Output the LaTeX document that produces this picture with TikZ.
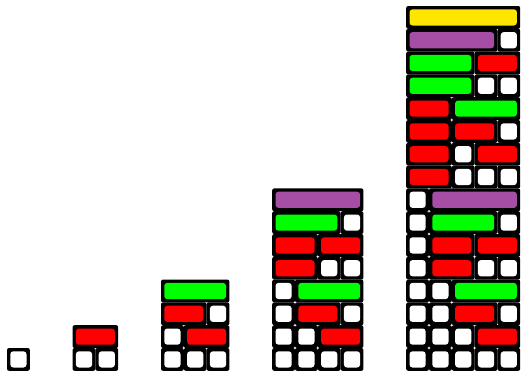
\documentclass[tikz,border=0pt]{standalone}
\usepackage{tikz}
\definecolor{c1}{RGB}{255,255,255}
\definecolor{c2}{RGB}{255,0,0}
\definecolor{c3}{RGB}{0,255,0}
\definecolor{c4}{RGB}{166,77,166}
\definecolor{c5}{RGB}{255,230,0}
\def\myU{22.8}
\def\bw{3.3}
\newcommand\comprow[3]{%
  \xdef\cx{0}%
  \foreach \p in #3 {%
    \pgfmathsetmacro\xa{#1+\cx*\myU}%
    \pgfmathsetmacro\xb{#1+(\cx+\p)*\myU}%
    \pgfmathsetmacro\ya{-(#2)}%
    \pgfmathsetmacro\yb{-(#2)-\myU}%
    \fill[tileout] (\xa,\ya) rectangle (\xb,\yb);
    \fill[tilein, fill=c\p] (\xa+\bw,\ya-\bw) rectangle (\xb-\bw,\yb+\bw);
    \pgfmathsetmacro\nx{\cx+\p}\xdef\cx{\nx}%
  }}
\newcommand\compcol[3]{% x0, N, rows
  \foreach \row [count=\i] in {#3} {%
    \pgfmathsetmacro\yt{370.8-(#2-\i+1)*\myU}%
    \comprow{#1}{\yt}{\row}%
  }}
\begin{document}
\begin{tikzpicture}[x=1pt,y=1pt,
  tileout/.style={fill=black, rounded corners=2pt},
  tilein/.style={rounded corners=3pt}]
\useasboundingbox (0,0) rectangle (521,-372);
\compcol{7}{1}{{1}}
\compcol{72.6}{2}{{2},{1,1}}
\compcol{161}{4}{{3},{2,1},{1,2},{1,1,1}}
\compcol{272.2}{8}{{4},{3,1},{2,2},{2,1,1},{1,3},{1,2,1},{1,1,2},{1,1,1,1}}
\compcol{406.2}{16}{{5},{4,1},{3,2},{3,1,1},{2,3},{2,2,1},{2,1,2},{2,1,1,1},{1,4},{1,3,1},{1,2,2},{1,2,1,1},{1,1,3},{1,1,2,1},{1,1,1,2},{1,1,1,1,1}}
\end{tikzpicture}
\end{document}
